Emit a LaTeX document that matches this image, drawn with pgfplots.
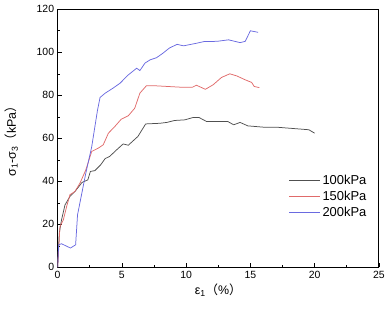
\documentclass[border=0pt]{standalone}
\usepackage{fontspec}
\setmainfont{Liberation Sans}
\newfontfamily\cjk{Noto Sans CJK SC}
\usepackage{pgfplots}
\pgfplotsset{compat=1.18}
\definecolor{cblack}{HTML}{505050}
\definecolor{cred}{HTML}{E06A6A}
\definecolor{cblue}{HTML}{6A6AE0}
\begin{document}
\begin{tikzpicture}
\begin{axis}[
  scale only axis, width=321.6bp, height=258.4bp,
  xmin=0, xmax=25, ymin=0, ymax=120,
  xtick={0,5,...,25}, ytick={0,20,...,120},
  minor xtick={2.5,7.5,...,22.5}, minor ytick={10,30,...,110},
  tick align=inside, xtick pos=bottom, ytick pos=left,
  major tick length=4bp, minor tick length=2.5bp,
  tick style={black, line width=0.6bp},
  axis line style={line width=0.8bp},
  /pgf/number format/assume math mode=true,
  ticklabel style={font=\fontsize{10.5}{12}\selectfont},
  xticklabel style={yshift=-0.5bp},
  xlabel={ε\textsubscript{1}{\cjk （}\%{\cjk ）}},
  ylabel={σ\textsubscript{1}-σ\textsubscript{3}{\cjk （}kPa{\cjk ）}},
  label style={font=\fontsize{12.5}{14}\selectfont},
  xlabel style={yshift=2bp},
  ylabel style={yshift=12bp},
  legend style={draw=none, fill=none, font=\fontsize{13}{15}\selectfont,
    inner sep=0pt, at={(0.968,0.275)}, anchor=east, row sep=1bp},
  legend cell align=left,
  legend image code/.code={\draw[#1] (0bp,0bp) -- (31bp,0bp);},
  every axis plot/.append style={line width=0.75bp},
]
\addplot[cblack] coordinates {
(0,0) (0.13,16) (0.3,22) (0.57,29) (0.96,33) (1.35,35.3) (1.9,39.5) (2.35,40.7)
(2.55,44.6) (2.9,45) (3.35,47.7) (3.7,50.6) (4.05,51.6) (4.6,54.7) (5.1,57.4)
(5.5,56.8) (6.25,60.9) (6.85,66.7) (7.95,67) (8.5,67.4) (9.1,68.3) (9.9,68.6)
(10.55,69.7) (11.0,69.7) (11.6,67.8) (13.25,67.8) (13.7,66.3) (14.2,67.4)
(14.8,65.8) (16,65.2) (17,65.2) (19.55,64) (20,62.4)
};
\addlegendentry{100kPa}
\addplot[cred] coordinates {
(0,0) (0.18,19) (0.44,22) (0.7,28.3) (0.96,33.8) (1.35,35.3) (1.74,39.2) (2.2,45.4)
(2.65,53.9) (3.15,55.4) (3.55,57) (3.95,62.4) (4.45,65.5) (4.95,68.9) (5.5,70.5)
(6.0,74) (6.4,81) (6.9,84.4) (7.7,84.4) (9.5,83.8) (10.5,83.8) (10.8,84.7)
(11.5,82.8) (12.1,84.9) (12.75,88.3) (13.4,90) (13.95,89) (14.6,87.2) (15.1,86)
(15.3,84.1) (15.7,83.6)
};
\addlegendentry{150kPa}
\addplot[cblue] coordinates {
(0,0) (0.08,10.5) (0.3,11) (1.0,9) (1.4,10.5) (1.55,24.5) (1.9,35) (2.2,44)
(2.65,56) (3.1,73) (3.3,79) (3.7,81) (4.3,83.3) (4.85,85.6) (5.5,89.5) (6.15,92.6)
(6.4,91.5) (6.8,95) (7.2,96.5) (7.7,97.5) (8.2,99.6) (8.7,102) (9.3,103.7)
(9.8,103) (10.8,104.2) (11.4,105) (12.4,105.1) (13.3,105.8) (14.2,104.5)
(14.6,105.1) (15.0,110) (15.6,109.3)
};
\addlegendentry{200kPa}
\end{axis}
\path ([shift={(-57.7bp,-43.3bp)}]current axis.south west) rectangle ([shift={(8.7bp,9.3bp)}]current axis.north east);
\end{tikzpicture}
\end{document}
